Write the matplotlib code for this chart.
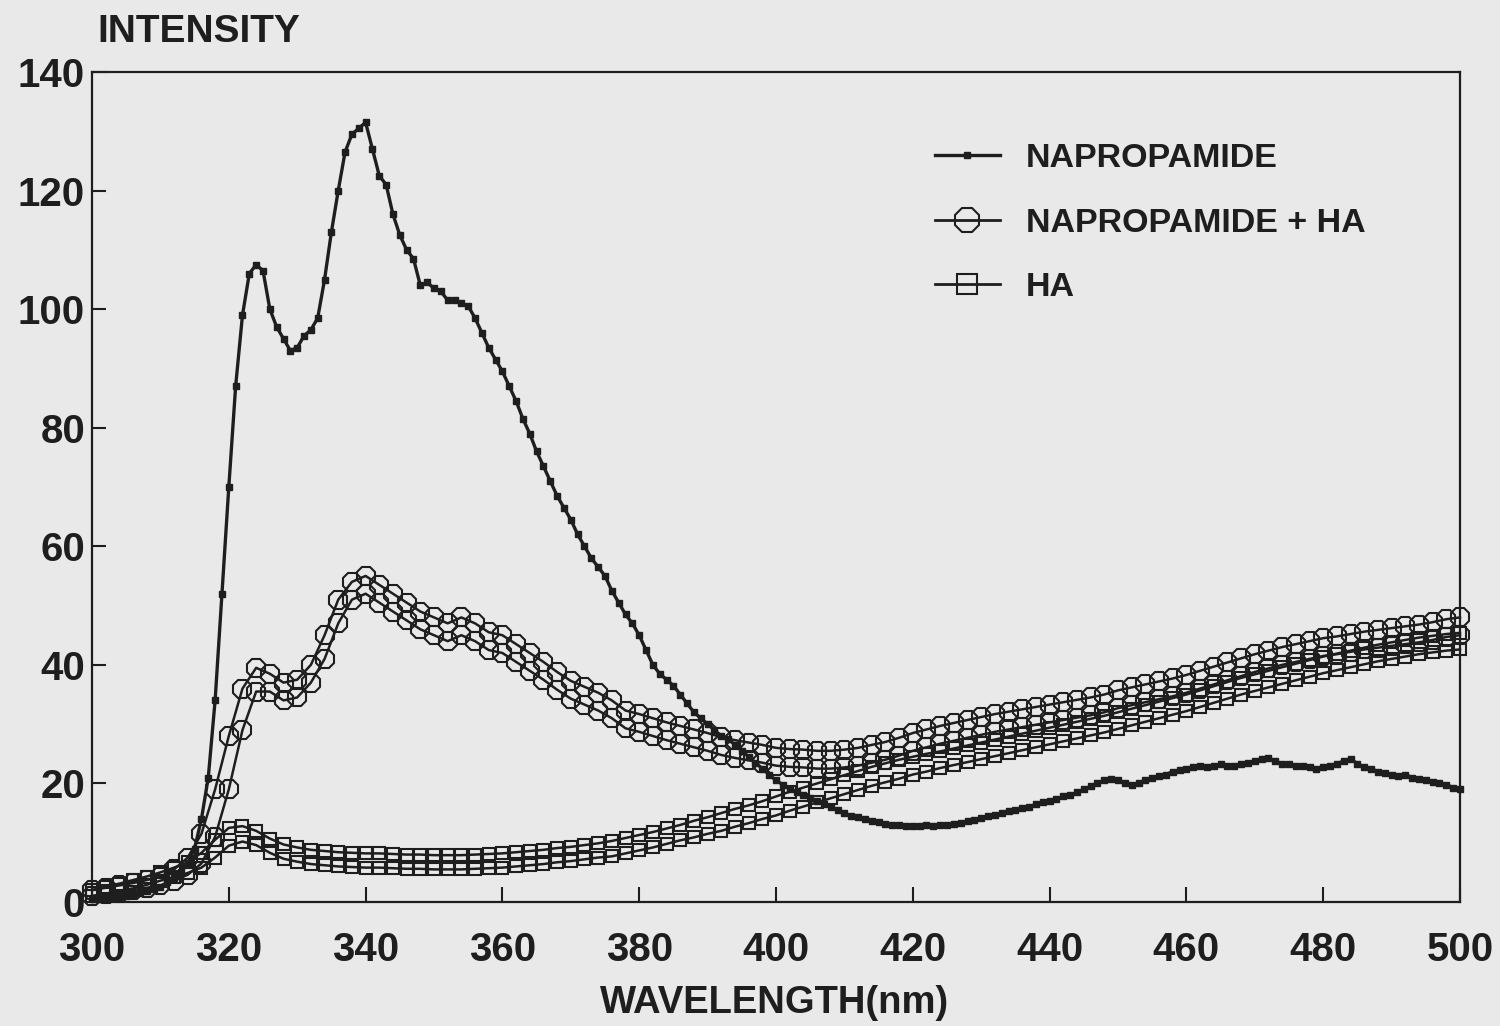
import numpy as np
import matplotlib.pyplot as plt
from matplotlib.lines import Line2D

# wavelengths (nm): napropamide read every 1 nm, the others every 2 nm
wl_1nm = np.arange(300, 501)
wl_2nm = np.arange(300, 501, 2)

napropamide = [
    0.5, 0.5, 0.6, 0.7, 0.8, 1.0, 1.2, 1.5, 1.8, 2.2,
    2.6, 3.3, 4.0, 5.0, 6.5, 9.0, 14.0, 21.0, 34.0, 52.0,
    70.0, 87.0, 99.0, 106.0, 107.5, 106.5, 100.0, 97.0, 95.0, 93.0,
    93.5, 95.5, 96.5, 98.5, 105.0, 113.0, 120.0, 126.5, 129.5, 130.5,
    131.5, 127.0, 122.5, 121.0, 116.0, 112.5, 110.0, 108.5, 104.0, 104.5,
    103.5, 103.0, 101.5, 101.5, 101.0, 100.5, 98.5, 96.0, 93.5, 91.5,
    89.5, 87.0, 84.5, 81.5, 79.0, 76.0, 73.5, 71.0, 68.5, 66.5,
    64.5, 62.0, 60.0, 58.0, 56.5, 55.0, 52.5, 50.5, 48.5, 47.0,
    45.0, 42.5, 40.0, 38.5, 37.5, 36.5, 35.0, 33.5, 32.0, 31.0,
    30.0, 29.0, 28.0, 27.5, 26.5, 25.5, 24.5, 23.5, 22.5, 21.5,
    20.5, 19.8, 19.0, 18.5, 18.0, 17.5, 17.0, 16.5, 16.0, 15.5,
    15.0, 14.5, 14.3, 14.0, 13.7, 13.5, 13.2, 13.0, 13.0, 12.8,
    12.8, 12.8, 13.0, 12.8, 13.0, 13.0, 13.2, 13.3, 13.6, 13.8,
    14.2, 14.5, 14.7, 15.0, 15.3, 15.5, 15.8, 16.0, 16.5, 16.8,
    17.0, 17.3, 17.8, 18.0, 18.5, 19.0, 19.5, 20.0, 20.5, 20.8,
    20.5, 20.0, 19.8, 20.0, 20.5, 21.0, 21.2, 21.5, 22.0, 22.2,
    22.5, 22.8, 23.0, 22.8, 23.0, 23.2, 23.0, 23.0, 23.2, 23.5,
    23.8, 24.2, 24.3, 23.8, 23.3, 23.2, 23.0, 23.0, 22.8, 22.5,
    22.8, 23.0, 23.3, 23.8, 24.2, 23.3, 22.8, 22.5, 22.0, 21.8,
    21.5, 21.3, 21.5, 21.0, 20.7, 20.5, 20.2, 20.0, 19.8, 19.3,
    19.0,
]

# napropamide + HA, two traces drawn on top of each other
napro_ha_a = [
    2.0, 2.4, 2.8, 3.2, 3.7, 4.3, 5.5, 7.5, 11.5, 19.0,
    28.0, 36.0, 39.5, 38.5, 37.0, 37.5, 40.0, 45.0, 51.0, 54.0,
    55.0, 53.5, 52.0, 50.5, 49.0, 48.0, 47.0, 48.0, 47.0, 45.5,
    45.0, 43.5, 42.0, 40.5, 38.8, 37.3, 36.3, 35.3, 34.0, 32.3,
    31.7, 31.0, 30.3, 29.7, 29.1, 28.5, 27.8, 27.3, 26.9, 26.5,
    26.0, 25.8, 25.7, 25.5, 25.5, 25.7, 26.0, 26.5, 27.0, 27.7,
    28.5, 29.1, 29.7, 30.2, 30.7, 31.2, 31.7, 32.1, 32.5, 32.9,
    33.3, 33.7, 34.1, 34.5, 35.0, 35.7, 36.2, 36.7, 37.2, 37.7,
    38.3, 39.0, 39.7, 40.4, 41.1, 41.8, 42.4, 43.0, 43.5, 44.0,
    44.5, 44.8, 45.2, 45.6, 45.9, 46.2, 46.5, 46.8, 47.2, 47.7,
    48.0,
]
napro_ha_b = [
    1.0, 1.3, 1.6, 2.0, 2.4, 2.8, 3.6, 4.6, 6.5, 11.0,
    19.0, 29.0, 35.5, 35.5, 34.0, 34.5, 37.0, 41.0, 47.0, 51.0,
    52.0, 50.5, 49.0, 47.5, 46.0, 45.0, 44.0, 45.0, 44.0, 42.5,
    42.0, 40.5, 39.0, 37.5, 35.8, 34.3, 33.3, 32.3, 31.0, 29.3,
    28.7, 28.0, 27.3, 26.7, 26.1, 25.5, 24.8, 24.3, 23.9, 23.5,
    23.0, 22.8, 22.7, 22.5, 22.5, 22.7, 23.0, 23.5, 24.0, 24.7,
    25.5, 26.1, 26.7, 27.2, 27.7, 28.2, 28.7, 29.1, 29.5, 29.9,
    30.3, 30.7, 31.1, 31.5, 32.0, 32.7, 33.2, 33.7, 34.2, 34.7,
    35.3, 36.0, 36.7, 37.4, 38.1, 38.8, 39.4, 40.0, 40.5, 41.0,
    41.5, 41.8, 42.2, 42.6, 42.9, 43.2, 43.5, 43.8, 44.2, 44.7,
    45.0,
]

# HA alone, two traces
ha_a = [
    2.0, 2.6, 3.1, 3.7, 4.3, 5.0, 5.8, 6.7, 8.3, 10.5,
    12.5, 12.8, 12.0, 10.7, 9.7, 9.2, 8.8, 8.6, 8.4, 8.3,
    8.2, 8.2, 8.1, 8.0, 8.0, 7.9, 7.9, 7.9, 8.0, 8.1,
    8.2, 8.4, 8.6, 8.8, 9.1, 9.3, 9.6, 9.9, 10.3, 10.8,
    11.3, 11.8, 12.4, 13.0, 13.7, 14.3, 15.0, 15.7, 16.3, 17.0,
    17.8, 18.6, 19.3, 20.0, 20.7, 21.4, 22.1, 22.8, 23.4, 24.0,
    24.5, 25.0, 25.4, 25.9, 26.4, 26.9, 27.4, 27.9, 28.4, 28.9,
    29.4, 29.9, 30.4, 30.9, 31.4, 32.0, 32.6, 33.2, 33.8, 34.4,
    35.0, 35.7, 36.4, 37.1, 37.8, 38.4, 39.0, 39.6, 40.2, 40.8,
    41.4, 41.9, 42.4, 42.9, 43.4, 43.8, 44.2, 44.6, 44.9, 45.2,
    45.4,
]
ha_b = [
    1.0, 1.4, 1.9, 2.3, 2.9, 3.6, 4.2, 4.9, 5.8, 7.5,
    9.5, 10.2, 9.6, 8.3, 7.3, 6.8, 6.4, 6.2, 6.0, 5.9,
    5.8, 5.8, 5.7, 5.6, 5.6, 5.5, 5.5, 5.5, 5.6, 5.7,
    5.8, 6.0, 6.2, 6.4, 6.7, 6.9, 7.2, 7.5, 7.7, 8.2,
    8.7, 9.2, 9.8, 10.4, 10.9, 11.5, 12.0, 12.7, 13.3, 14.0,
    14.6, 15.4, 16.1, 16.8, 17.5, 18.2, 18.9, 19.6, 20.2, 20.8,
    21.5, 22.0, 22.6, 23.1, 23.6, 24.1, 24.6, 25.1, 25.6, 26.1,
    26.6, 27.1, 27.6, 28.1, 28.6, 29.2, 29.8, 30.4, 31.0, 31.6,
    32.2, 32.9, 33.6, 34.3, 35.0, 35.6, 36.2, 36.8, 37.4, 38.0,
    38.6, 39.1, 39.6, 40.1, 40.6, 41.0, 41.4, 41.8, 42.1, 42.4,
    42.6,
]

x_ticks = [300, 320, 340, 360, 380, 400, 420, 440, 460, 480, 500]
y_ticks = [0, 20, 40, 60, 80, 100, 120, 140]
legend_labels = ['NAPROPAMIDE', 'NAPROPAMIDE + HA', 'HA']

paper = '#e9e9e9'
ink = '#1e1e1e'
plt.rcParams['font.family'] = ['Liberation Sans', 'DejaVu Sans']
plt.rcParams['font.weight'] = 'bold'

W, H = 1500, 1026
fig = plt.figure(figsize=(W / 100, H / 100), dpi=100, facecolor=paper)
ax = fig.add_axes([92 / W, 1 - 902 / H, (1460 - 92) / W, (902 - 72) / H])
ax.set_facecolor(paper)

for ys in (ha_a, ha_b):
    ax.plot(wl_2nm, ys, color=ink, lw=1.8, marker='s', ms=9,
            mfc='none', mec=ink, mew=1.5, clip_on=False, zorder=2)
for ys in (napro_ha_a, napro_ha_b):
    ax.plot(wl_2nm, ys, color=ink, lw=1.8, marker='8', ms=14.5,
            mfc='none', mec=ink, mew=1.5, clip_on=False, zorder=3)
ax.plot(wl_1nm, napropamide, color=ink, lw=2.4, marker='s', ms=3.8,
        mfc=ink, mec=ink, clip_on=False, zorder=4)

ax.set_xlim(300, 500)
ax.set_ylim(0, 140)
ax.set_xticks(x_ticks)
ax.set_yticks(y_ticks)
ax.tick_params(axis='x', direction='in', length=11, width=1.5, pad=21,
               labelsize=29, colors=ink)
ax.tick_params(axis='y', direction='in', length=10, width=1.5, pad=5,
               labelsize=29, colors=ink)
for s in ax.spines.values():
    s.set_linewidth(1.6)
    s.set_color(ink)

fig.text(97 / W, 1 - 32 / H, 'INTENSITY', fontsize=28, color=ink,
         ha='left', va='center')
fig.text(775 / W, 1 - 1003 / H, 'WAVELENGTH(nm)', fontsize=27.5, color=ink,
         ha='center', va='center')

handles = [
    Line2D([], [], color=ink, lw=2.4, marker='s', ms=4.5, mfc=ink, mec=ink),
    Line2D([], [], color=ink, lw=2.0, marker='8', ms=19, mfc='none',
           mec=ink, mew=1.5),
    Line2D([], [], color=ink, lw=2.0, marker='s', ms=15, mfc='none',
           mec=ink, mew=1.5),
]
leg = ax.legend(handles, legend_labels, loc='upper left',
                bbox_to_anchor=(935 / W, 1 - 143 / H),
                bbox_transform=fig.transFigure, frameon=False,
                fontsize=24.5, handlelength=1.9, handletextpad=0.78,
                labelspacing=0.99, borderpad=0, borderaxespad=0)
for t in leg.get_texts():
    t.set_color(ink)

fig.savefig('out.png', dpi=100, facecolor=paper)
